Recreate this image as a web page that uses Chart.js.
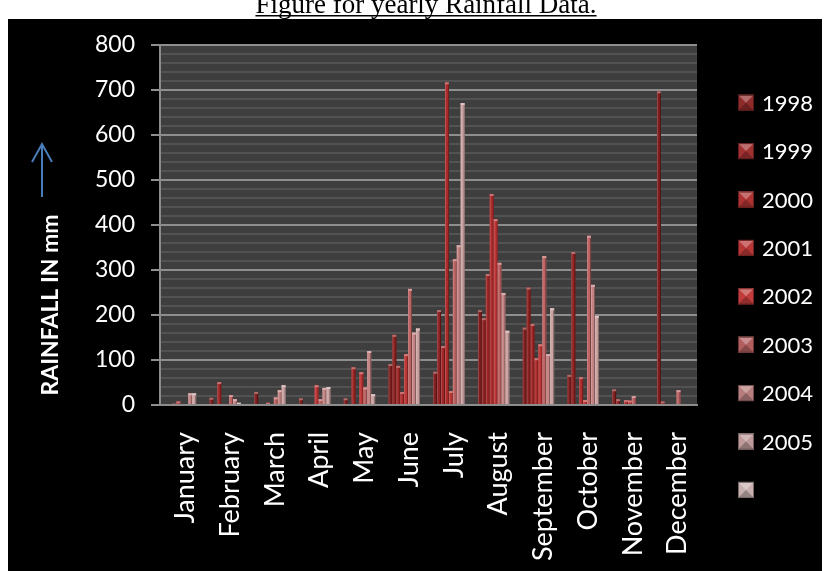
<!DOCTYPE html>
<html>
<head>
<meta charset="utf-8">
<script src="https://cdn.jsdelivr.net/npm/chart.js@4/dist/chart.umd.min.js"></script>
<style>
  html, body { margin: 0; padding: 0; background: #ffffff; overflow: hidden; }
  canvas { display: block; }
</style>
</head>
<body>
<canvas id="rain" width="827" height="571"></canvas>
<script>
// Monthly rainfall (mm), one array per year
const months = ['January', 'February', 'March', 'April', 'May', 'June',
                'July', 'August', 'September', 'October', 'November', 'December'];
const seriesNames = ['1998', '1999', '2000', '2001', '2002', '2003', '2004', '2005', ''];

const rain1998 = [0, 16, 29, 15, 15, 91, 74, 211, 172, 67, 35, 697];
const rain1999 = [0, 0, 0, 0, 0, 156, 211, 193, 261, 340, 13, 8];
const rain2000 = [3, 51, 0, 2, 84, 87, 131, 291, 180, 0, 0, 0];
const rain2001 = [8, 0, 5, 0, 0, 29, 717, 469, 104, 62, 11, 0];
const rain2002 = [0, 2, 0, 44, 73, 113, 31, 413, 135, 11, 10, 0];
const rain2003 = [0, 22, 17, 13, 39, 258, 324, 316, 331, 376, 20, 33];
const rain2004 = [26, 13, 33, 38, 120, 161, 355, 249, 113, 267, 0, 0];
const rain2005 = [26, 5, 44, 40, 24, 170, 671, 165, 215, 198, 0, 0];
const rainBlank = [null, null, null, null, null, null, null, null, null, null, null, null];

const yTickValues = [0, 100, 200, 300, 400, 500, 600, 700, 800];

const barColors = ['#7f1e1e', '#8f2222', '#a02727', '#ad2c2c', '#bd3535',
                   '#bd6363', '#c48484', '#cba3a3', '#d3b9b9'];
const legendColors = ['#8e2a2a', '#a13030', '#ad3333', '#b73737', '#c23c3c',
                      '#b25e5e', '#b87e7e', '#bf9a9a', '#c8b0b0'];

const allSeries = [rain1998, rain1999, rain2000, rain2001, rain2002,
                   rain2003, rain2004, rain2005, rainBlank];

function shade(hex, amt) {
  const n = parseInt(hex.slice(1), 16);
  let r = (n >> 16) & 255, g = (n >> 8) & 255, b = n & 255;
  const f = c => Math.max(0, Math.min(255, Math.round(amt >= 0 ? c + (255 - c) * amt : c * (1 + amt))));
  return 'rgb(' + f(r) + ',' + f(g) + ',' + f(b) + ')';
}

Chart.defaults.font.family = 'Lato';

// Page frame: title strip, black panel, grey back wall
const framePlugin = {
  id: 'frame',
  beforeDraw(chart) {
    const ctx = chart.ctx;
    const a = chart.chartArea;
    ctx.save();
    ctx.fillStyle = '#ffffff';
    ctx.fillRect(0, 0, chart.width, chart.height);
    ctx.fillStyle = '#000000';
    ctx.fillRect(8, 19, 814, 552);

    const title = 'Figure for yearly Rainfall Data.';
    ctx.font = '27px "Liberation Serif"';
    ctx.textAlign = 'center';
    ctx.textBaseline = 'alphabetic';
    ctx.fillStyle = '#000000';
    ctx.fillText(title, 426, 13);
    const tw = ctx.measureText(title).width;
    ctx.fillRect(426 - tw / 2, 15, tw, 1.5);

    ctx.fillStyle = '#3e3e3e';
    ctx.fillRect(a.left, a.top, a.right - a.left, a.bottom - a.top);
    ctx.restore();
  }
};

// Light caps and shaded edges give the columns a bevelled look
const bevelPlugin = {
  id: 'bevel',
  afterDatasetsDraw(chart) {
    const ctx = chart.ctx;
    ctx.save();
    chart.data.datasets.forEach((ds, di) => {
      const meta = chart.getDatasetMeta(di);
      if (meta.hidden) return;
      meta.data.forEach((el, i) => {
        const v = ds.data[i];
        if (v === null || v === undefined || v <= 0) return;
        const p = el.getProps(['x', 'y', 'width', 'base'], true);
        const left = p.x - p.width / 2;
        const h = p.base - p.y;
        ctx.fillStyle = shade(barColors[di], -0.35);
        ctx.fillRect(p.x + p.width / 2 - 1, p.y, 1, h);
        ctx.fillStyle = shade(barColors[di], 0.18);
        ctx.fillRect(left, p.y, 1, h);
        ctx.fillStyle = shade(barColors[di], 0.35);
        ctx.fillRect(left, p.y, p.width, Math.min(2, h));
      });
    });
    ctx.restore();
  }
};

// Axis caption, arrow and side legend
const decorPlugin = {
  id: 'decor',
  afterDraw(chart) {
    const ctx = chart.ctx;
    ctx.save();

    ctx.translate(51, 305);
    ctx.rotate(-Math.PI / 2);
    ctx.font = 'bold 23px Lato';
    ctx.fillStyle = '#ffffff';
    ctx.textAlign = 'center';
    ctx.textBaseline = 'middle';
    ctx.fillText('RAINFALL IN mm', 0, 0);
    ctx.setTransform(1, 0, 0, 1, 0, 0);

    ctx.strokeStyle = '#4a7ebb';
    ctx.lineWidth = 2;
    ctx.beginPath();
    ctx.moveTo(42, 197);
    ctx.lineTo(42, 144);
    ctx.moveTo(32, 162);
    ctx.lineTo(42, 144);
    ctx.lineTo(52, 162);
    ctx.stroke();

    ctx.font = '22px Lato';
    ctx.textAlign = 'left';
    ctx.textBaseline = 'middle';
    chart.data.datasets.forEach((ds, i) => {
      const cy = 102.7 + i * 48.4;
      const bx = 738, by = cy - 8, s = 16;
      const c = legendColors[i];
      ctx.fillStyle = c;
      ctx.fillRect(bx, by, s, s);
      ctx.fillStyle = shade(c, 0.3);
      ctx.beginPath();
      ctx.moveTo(bx, by); ctx.lineTo(bx + s, by); ctx.lineTo(bx + s / 2, by + s / 2); ctx.closePath();
      ctx.fill();
      ctx.fillStyle = shade(c, -0.25);
      ctx.beginPath();
      ctx.moveTo(bx, by + s); ctx.lineTo(bx + s, by + s); ctx.lineTo(bx + s / 2, by + s / 2); ctx.closePath();
      ctx.fill();
      ctx.strokeStyle = shade(c, -0.4);
      ctx.lineWidth = 1;
      ctx.strokeRect(bx + 0.5, by + 0.5, s - 1, s - 1);
      ctx.fillStyle = '#ffffff';
      ctx.fillText(ds.label, 762, cy + 1);
    });
    ctx.restore();
  }
};

const datasets = allSeries.map((arr, i) => ({
  label: seriesNames[i],
  data: arr,
  backgroundColor: barColors[i],
  borderWidth: 0,
  categoryPercentage: 0.79,
  barPercentage: 1.0
}));

new Chart(document.getElementById('rain'), {
  type: 'bar',
  data: { labels: months, datasets: datasets },
  options: {
    responsive: false,
    animation: false,
    layout: { padding: { left: 0, top: 45, right: 130, bottom: 0 } },
    plugins: {
      legend: { display: false },
      tooltip: { enabled: false },
      title: { display: false }
    },
    scales: {
      x: {
        grid: { display: true, drawOnChartArea: false, drawTicks: false },
        border: { display: true, color: '#8c8c8c', width: 2 },
        ticks: {
          autoSkip: false,
          minRotation: 90,
          maxRotation: 90,
          padding: 27,
          labelOffset: 3,
          color: '#ffffff',
          font: { size: 27 }
        },
        afterFit(scale) { scale.height = 166; }
      },
      y: {
        min: 0,
        max: 800,
        grid: {
          color: c => (yTickValues.includes(c.tick.value) ? '#8e8e8e' : '#525252'),
          lineWidth: 2,
          tickColor: c => (yTickValues.includes(c.tick.value) ? '#8e8e8e' : 'rgba(0,0,0,0)'),
          tickLength: 9
        },
        border: { display: true, color: '#8c8c8c', width: 2 },
        ticks: {
          stepSize: 20,
          autoSkip: false,
          padding: 16,
          color: '#ffffff',
          font: { size: 23 },
          callback: v => (yTickValues.includes(v) ? String(v) : '')
        },
        afterFit(scale) { scale.width = 160; }
      }
    }
  },
  plugins: [framePlugin, bevelPlugin, decorPlugin]
});
</script>
</body>
</html>
